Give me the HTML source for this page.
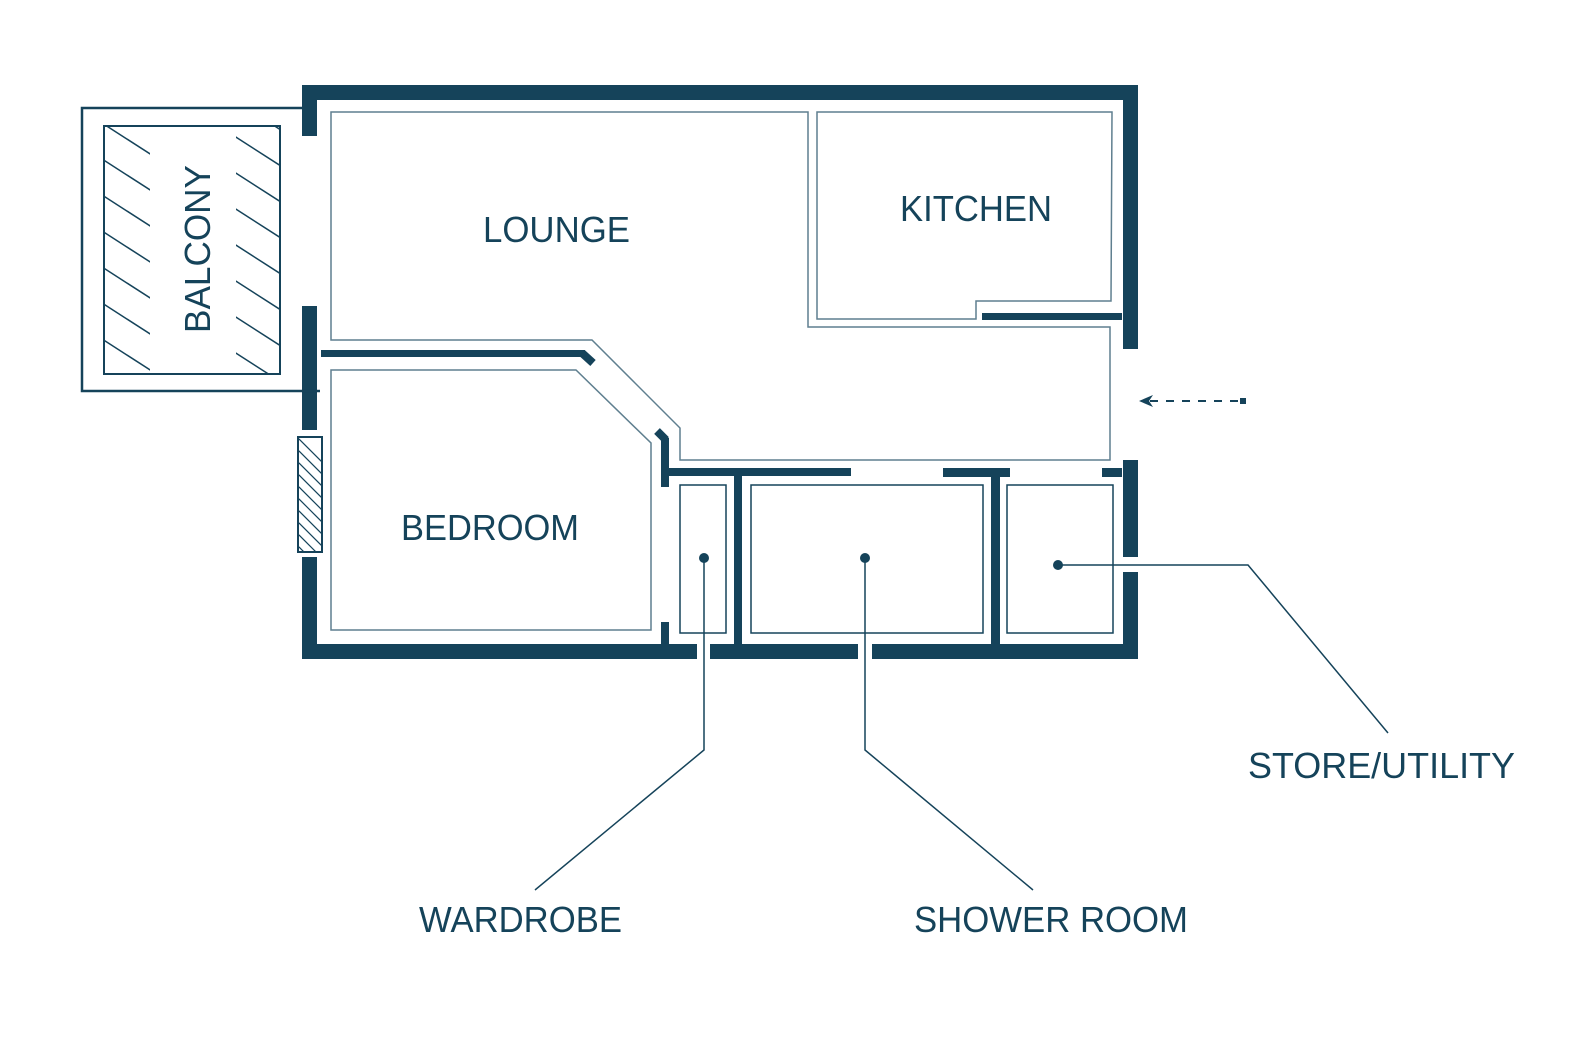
<!DOCTYPE html>
<html><head><meta charset="utf-8"><style>html,body{margin:0;padding:0;background:#fff}svg{display:block}</style></head>
<body>
<svg width="1571" height="1042" viewBox="0 0 1571 1042" xmlns="http://www.w3.org/2000/svg">
<defs>
<clipPath id="bc"><rect x="104" y="126" width="46" height="248"/><rect x="236" y="126" width="44" height="248"/></clipPath>
<clipPath id="wc"><rect x="299" y="438" width="22" height="113"/></clipPath>
</defs>
<g fill="#15435a">
<!-- outer walls -->
<rect x="302" y="85" width="836" height="15"/>
<rect x="1123" y="85" width="15" height="264"/>
<rect x="1123" y="460" width="15" height="97"/>
<rect x="1123" y="572" width="15" height="87"/>
<rect x="302" y="644" width="395" height="15"/>
<rect x="710" y="644" width="148" height="15"/>
<rect x="872" y="644" width="266" height="15"/>
<rect x="302" y="85" width="15" height="51"/>
<rect x="302" y="306" width="15" height="124"/>
<rect x="302" y="557" width="15" height="102"/>
<!-- internal walls -->
<rect x="982" y="313" width="140" height="7"/>
<rect x="321" y="350" width="264" height="7"/>
<rect x="661" y="438" width="8" height="49"/>
<rect x="665" y="468" width="186" height="8"/>
<rect x="661" y="622" width="8" height="22"/>
<rect x="734" y="476" width="8" height="168"/>
<rect x="943" y="468" width="67" height="9"/>
<rect x="991" y="477" width="9" height="167"/>
<rect x="1102" y="468" width="20" height="9"/>
</g>
<g stroke="#15435a" stroke-width="8" fill="none" stroke-linecap="butt">
<line x1="582" y1="353" x2="593" y2="363"/>
<line x1="657" y1="431" x2="666" y2="440"/>
</g>
<g fill="none" stroke="#5f7f8f" stroke-width="1.5">
<polygon points="331,112 808,112 808,327 1110,327 1110,460 680,460 680,428 592,340 331,340"/>
<polygon points="817,112 1112,112 1111,301 976,301 976,319 817,319"/>
<polygon points="331,370 576,370 651,443 651,630 331,630"/>
</g>
<g fill="none" stroke="#15435a" stroke-width="1.5">
<rect x="680" y="485" width="46" height="148"/>
<rect x="751" y="485" width="232" height="148"/>
<rect x="1007" y="485" width="106" height="148"/>
<!-- balcony -->
<polyline points="302,108 82,108 82,391 320,391" stroke-width="2.5"/>
<rect x="104" y="126" width="176" height="248" stroke-width="2"/>
<rect x="298" y="437" width="24" height="115" stroke-width="2"/>
<!-- leaders -->
<polyline points="704,558 704,750 535,890"/>
<polyline points="865,558 865,750 1033,890"/>
<polyline points="1058,565 1248,565 1388,733"/>
</g>
<g stroke="#15435a" stroke-width="1.5" clip-path="url(#bc)">
<line x1="60" y1="60" x2="340" y2="240"/><line x1="60" y1="96" x2="340" y2="276"/>
<line x1="60" y1="132" x2="340" y2="312"/><line x1="60" y1="168" x2="340" y2="348"/>
<line x1="60" y1="204" x2="340" y2="384"/><line x1="60" y1="240" x2="340" y2="420"/>
<line x1="60" y1="276" x2="340" y2="456"/><line x1="60" y1="312" x2="340" y2="492"/>
<line x1="60" y1="348" x2="340" y2="528"/><line x1="60" y1="24" x2="340" y2="204"/>
<line x1="60" y1="-12" x2="340" y2="168"/><line x1="60" y1="-48" x2="340" y2="132"/>
</g>
<g stroke="#15435a" stroke-width="1.2" clip-path="url(#wc)">
<line x1="280" y1="420" x2="340" y2="480"/><line x1="280" y1="432" x2="340" y2="492"/>
<line x1="280" y1="444" x2="340" y2="504"/><line x1="280" y1="456" x2="340" y2="516"/>
<line x1="280" y1="468" x2="340" y2="528"/><line x1="280" y1="480" x2="340" y2="540"/>
<line x1="280" y1="492" x2="340" y2="552"/><line x1="280" y1="504" x2="340" y2="564"/>
<line x1="280" y1="516" x2="340" y2="576"/><line x1="280" y1="528" x2="340" y2="588"/>
<line x1="280" y1="540" x2="340" y2="600"/>
</g>
<g fill="#15435a">
<circle cx="704" cy="558" r="5"/><circle cx="865" cy="558" r="5"/><circle cx="1058" cy="565" r="5"/>
<rect x="1240" y="398" width="6" height="6"/>
<path d="M1139,401 L1153,395 L1149,401 L1153,407 Z"/>
</g>
<line x1="1150" y1="401" x2="1240" y2="401" stroke="#15435a" stroke-width="2" stroke-dasharray="8,8"/>
<g fill="#15435a" font-family="Liberation Sans, sans-serif" font-size="36">
<text x="483" y="242" textLength="147" lengthAdjust="spacingAndGlyphs">LOUNGE</text>
<text x="900" y="221" textLength="152" lengthAdjust="spacingAndGlyphs">KITCHEN</text>
<text x="401" y="540" textLength="178" lengthAdjust="spacingAndGlyphs">BEDROOM</text>
<text x="419" y="932" textLength="203" lengthAdjust="spacingAndGlyphs">WARDROBE</text>
<text x="914" y="932" textLength="274" lengthAdjust="spacingAndGlyphs">SHOWER ROOM</text>
<text x="1248" y="778" textLength="267" lengthAdjust="spacingAndGlyphs">STORE/UTILITY</text>
<text transform="translate(210,333) rotate(-90)" textLength="168" lengthAdjust="spacingAndGlyphs">BALCONY</text>
</g>
</svg>
</body></html>
